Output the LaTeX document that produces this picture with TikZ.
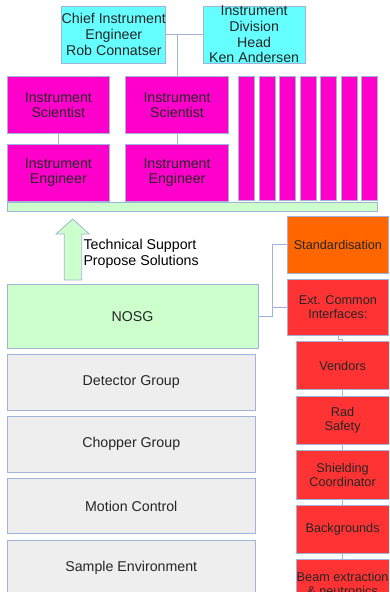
\documentclass[tikz,border=0pt]{standalone}
\usepackage{fontspec}
\setmainfont{Liberation Sans}
\usetikzlibrary{positioning}

\definecolor{edge}{RGB}{160,180,215}
\definecolor{headcyan}{HTML}{66FFFF}
\definecolor{instpink}{HTML}{FF00CC}
\definecolor{nosggreen}{HTML}{CCFFCC}
\definecolor{groupgrey}{HTML}{EEEEEE}
\definecolor{stdorange}{HTML}{FF6600}
\definecolor{ifacered}{HTML}{FF3333}

\begin{document}
\begin{tikzpicture}[
    x=1pt, y=1pt,
    % plain boxes, all with the same thin blue-grey frame
    box/.style={
        draw=edge,
        line width=0.8pt,
        rectangle,
        inner sep=0pt,
        align=center,
        text=black!85,
        font=\fontsize{14.2}{15.7}\selectfont
    },
    head/.style={box, fill=headcyan, minimum width=102.5pt, minimum height=57pt},
    inst/.style={box, fill=instpink, minimum width=102.5pt, minimum height=57.3pt},
    strip/.style={box, fill=instpink, minimum width=16pt, minimum height=124pt},
    group/.style={box, fill=groupgrey, minimum width=248.3pt, minimum height=55.5pt},
    % smaller text for the interface column
    iface/.style={box, fill=ifacered, minimum width=93pt, minimum height=48.3pt,
        font=\fontsize{12.7}{13.6}\selectfont},
    link/.style={draw=edge, line width=0.8pt}
]
    \clip (0,0) rectangle (389,-592);

    % --- Management ---
    \node[head, anchor=north west] (chief) at (61.3,-5.7) {Chief Instrument\\Engineer\\Rob Connatser};
    \node[head, right=36.3pt of chief, minimum width=102.3pt] (division) {Instrument\\Division\\Head\\Ken Andersen};

    % --- Instruments ---
    \node[inst, anchor=north west] (sci1) at (6.7,-76) {Instrument\\Scientist};
    \node[inst, below=9.4pt of sci1] (eng1) {Instrument\\Engineer};
    \node[inst, right=15.4pt of sci1] (sci2) {Instrument\\Scientist};
    \node[inst, below=9.4pt of sci2] (eng2) {Instrument\\Engineer};

    \foreach \i in {0,...,6}
        \node[strip, anchor=north west] (strip\i) at (238.3+20.5*\i,-76) {};

    \node[box, fill=nosggreen, minimum width=370.6pt, minimum height=9pt, anchor=north west] (base) at (6.7,-202) {};

    % --- Support arrow ---
    \draw[link, fill=nosggreen] (64.3,-280) -- (64.3,-234) -- (56,-234) -- (72.7,-219)
        -- (89.3,-234) -- (81.7,-234) -- (81.7,-280) -- cycle;
    \node[anchor=west, align=left, inner sep=0pt, font=\fontsize{14.2}{16}\selectfont] (support)
        at (83.3,-253.7) {Technical Support\\Propose Solutions};

    % --- NOSG and groups ---
    \node[box, fill=nosggreen, minimum width=251pt, minimum height=64pt, anchor=north west] (nosg) at (6.7,-284) {NOSG};
    \node[group, anchor=north west] (detector) at (6.7,-354.3) {Detector Group};
    \node[group, below=5.5pt of detector] (chopper) {Chopper Group};
    \node[group, below=5.5pt of chopper] (motion) {Motion Control};
    \node[group, below=5.5pt of motion] (sample) {Sample Environment};

    % --- Common interfaces ---
    \node[iface, fill=stdorange, minimum width=101.6pt, minimum height=57pt, anchor=north west] (std) at (286.7,-215.7) {Standardisation};
    \node[iface, minimum width=101.6pt, minimum height=56.6pt, below=5pt of std] (ext) {Ext. Common\\Interfaces:};
    \node[iface, anchor=north west] (vendors) at (295.7,-341) {Vendors};
    \node[iface, below=5.5pt of vendors] (rad) {Rad\\Safety};
    \node[iface, below=5.5pt of rad] (shield) {Shielding\\Coordinator};
    \node[iface, below=5.5pt of shield] (bg) {Backgrounds};
    \node[iface, below=5.5pt of bg] (beam) {Beam extraction\\\& neutronics};

    % --- Links ---
    \draw[link] (chief) -- (division);
    \draw[link] (sci2.north) -- (sci2.north |- chief.east);
    \draw[link] (sci1) -- (eng1);
    \draw[link] (sci2) -- (eng2);

    \coordinate (split) at ([xshift=14pt]nosg.east);
    \draw[link] (nosg.east) -- (split) |- (std.west);
    \draw[link] (split) |- (ext.west);
    \draw[link] (ext.south) -- ++(0,-3.5) -| (vendors.north);
    \foreach \a/\b in {vendors/rad, rad/shield, shield/bg, bg/beam}
        \draw[link] (\a) -- (\b);

\end{tikzpicture}
\end{document}
